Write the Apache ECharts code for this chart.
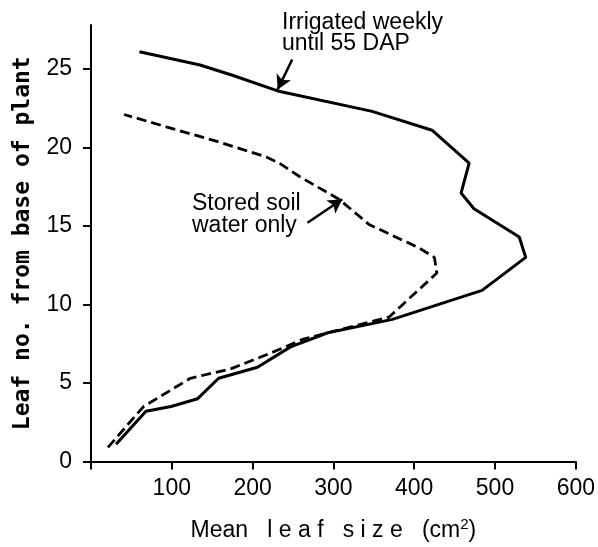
<!DOCTYPE html>
<html>
<head>
<meta charset="utf-8">
<script src="https://cdn.jsdelivr.net/npm/echarts@6/dist/echarts.min.js"></script>
<style>
  html, body { margin: 0; padding: 0; background: #fff; }
  #main { width: 598px; height: 547px; }
</style>
</head>
<body>
<div id="main"></div>
<script>
// Irrigated weekly until 55 DAP (solid line), traced from leaf 1 upward
var irrigatedSize = [31, 68, 99, 132, 158, 206, 247, 293, 373, 484, 538, 530, 474, 458, 468, 422, 348, 231, 175, 135, 60];
var irrigatedLeaf = [1.1, 3.2, 3.5, 4.0, 5.3, 6.0, 7.3, 8.2, 9.05, 10.9, 13.0, 14.3, 16.1, 17.1, 19.0, 21.1, 22.3, 23.6, 24.6, 25.25, 26.1];

// Stored soil water only (dashed line)
var storedSize = [21, 65, 123, 173, 222, 263, 293, 369, 428, 425, 406, 344, 307, 258, 233, 217, 155, 94, 41];
var storedLeaf = [0.9, 3.5, 5.3, 5.9, 6.9, 7.8, 8.2, 9.2, 12.0, 13.0, 13.6, 15.1, 16.7, 18.15, 19.0, 19.4, 20.4, 21.3, 22.1];

// tick values
var xTicks = [0, 100, 200, 300, 400, 500, 600];
var xLabels = [100, 200, 300, 400, 500, 600];
var yTicks = [0, 5, 10, 15, 20, 25];

// arrows: [tail, tip] in data units
var irrigatedArrow = [[249, 25.6], [231, 23.7]];
var storedArrow = [[268, 15.2], [311, 16.7]];

function pairs(xs, ys) {
	return xs.map(function(x, i) { return [x, ys[i]]; });
}

var axisFont = 'Liberation Sans, Arial, sans-serif';

var option = {
	animation: false,
	backgroundColor: '#fff',
	grid: { left: 91, right: 21, top: 25, bottom: 84 },
	xAxis: {
		type: 'value',
		min: 0,
		max: 600,
		interval: 100,
		name: '{n|Mean   l e a f   s i z e   (cm}{s|2}{n|)}',
		nameLocation: 'middle',
		nameGap: 56,
		nameTextStyle: {
			color: '#000', fontSize: 23, fontFamily: axisFont,
			rich: {
				n: { color: '#000', fontSize: 23, fontFamily: axisFont, lineHeight: 26 },
				s: { color: '#000', fontSize: 15, fontFamily: axisFont, lineHeight: 15, verticalAlign: 'top' }
			}
		},
		splitLine: { show: false },
		axisLine: { lineStyle: { color: '#000', width: 2 } },
		axisTick: { length: 8, lineStyle: { color: '#000', width: 2 }, customValues: xTicks },
		axisLabel: { color: '#000', fontSize: 23, fontFamily: axisFont, margin: 16, customValues: xLabels }
	},
	yAxis: {
		type: 'value',
		min: 0,
		max: 27.8,
		interval: 5,
		name: 'Leaf no. from base of plant',
		nameLocation: 'middle',
		nameRotate: 90,
		nameGap: 56,
		nameTextStyle: { color: '#000', fontSize: 23, fontWeight: 'bold', fontFamily: 'DejaVu Sans Mono, monospace' },
		splitLine: { show: false },
		axisLine: { lineStyle: { color: '#000', width: 2 } },
		axisTick: { length: 8, lineStyle: { color: '#000', width: 2 }, customValues: yTicks },
		axisLabel: { color: '#000', fontSize: 23, fontFamily: axisFont, margin: 19, customValues: yTicks }
	},
	series: [{
		name: 'Irrigated weekly until 55 DAP',
		type: 'line',
		data: pairs(irrigatedSize, irrigatedLeaf),
		symbol: 'none',
		lineStyle: { color: '#000', width: 3 },
		markLine: {
			silent: true,
			symbol: ['none', 'arrow'],
			symbolSize: [12, 14],
			label: { show: false },
			lineStyle: { color: '#000', width: 2.5, type: 'solid' },
			data: [[{ coord: irrigatedArrow[0] }, { coord: irrigatedArrow[1] }]]
		}
	}, {
		name: 'Stored soil water only',
		type: 'line',
		data: pairs(storedSize, storedLeaf),
		symbol: 'none',
		lineStyle: { color: '#000', width: 2.8, type: [10, 5] },
		markLine: {
			silent: true,
			symbol: ['none', 'arrow'],
			symbolSize: [12, 14],
			label: { show: false },
			lineStyle: { color: '#000', width: 2.5, type: 'solid' },
			data: [[{ coord: storedArrow[0] }, { coord: storedArrow[1] }]]
		}
	}],
	graphic: [{
		type: 'text',
		x: 282,
		y: 12,
		style: {
			text: 'Irrigated weekly\nuntil 55 DAP',
			fill: '#000',
			font: '23px Liberation Sans, Arial, sans-serif',
			lineHeight: 21
		}
	}, {
		type: 'text',
		x: 192,
		y: 193,
		style: {
			text: 'Stored soil\nwater only',
			fill: '#000',
			font: '23px Liberation Sans, Arial, sans-serif',
			lineHeight: 22
		}
	}]
};

var myChart = echarts.init(document.getElementById('main'));
myChart.setOption(option, true);
</script>
</body>
</html>
